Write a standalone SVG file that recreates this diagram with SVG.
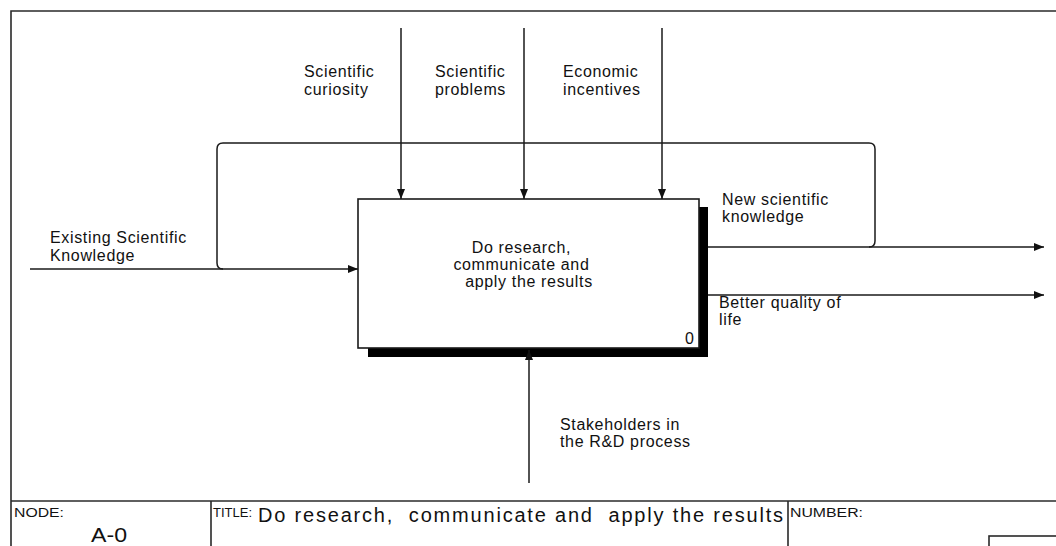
<svg xmlns="http://www.w3.org/2000/svg" width="1056" height="546" viewBox="0 0 1056 546">
  <style>
    .frame { stroke: #2a2a2a; stroke-width: 1.6; fill: none; }
    .flow { stroke: #1a1a1a; stroke-width: 1.5; fill: none; }
    .lbl { font-family: "Liberation Sans", Arial, sans-serif; font-size: 16px; letter-spacing: 0.65px; fill: #111; }
    .small { font-family: "Liberation Sans", Arial, sans-serif; font-size: 12px; fill: #111; }
    .big { font-family: "Liberation Sans", Arial, sans-serif; font-size: 20px; fill: #111; }
  </style>
  <defs>
    <marker id="head" viewBox="0 0 10 8" refX="10" refY="4" markerWidth="10" markerHeight="8" markerUnits="userSpaceOnUse" orient="auto">
      <path d="M0,0 L10,4 L0,8 Z" fill="#111"/>
    </marker>
  </defs>

  <rect width="1056" height="546" fill="#fff"/>

  <!-- sheet frame and title block -->
  <g id="frame">
    <path class="frame" d="M11,546 V11 H1056"/>
    <path class="frame" d="M11,501 H1056"/>
    <path class="frame" d="M211,501 V546 M788,501 V546"/>
    <rect class="frame" x="989" y="536" width="80" height="20"/>
    <text class="small" x="14" y="517" textLength="50" lengthAdjust="spacingAndGlyphs">NODE:</text>
    <text class="big" x="91" y="542" textLength="36" lengthAdjust="spacingAndGlyphs">A-0</text>
    <text class="small" x="213" y="517" textLength="39" lengthAdjust="spacingAndGlyphs">TITLE:</text>
    <text class="big" x="258" y="522" xml:space="preserve" textLength="525" lengthAdjust="spacing">Do research,  communicate and  apply the results</text>
    <text class="small" x="790" y="517" textLength="73" lengthAdjust="spacingAndGlyphs">NUMBER:</text>
  </g>

  <!-- activity box -->
  <g id="node-0">
    <rect x="368" y="207" width="340" height="150" fill="#000"/>
    <rect x="358" y="199" width="341" height="149" fill="#fff" stroke="#1a1a1a" stroke-width="1.6"/>
    <text class="lbl" text-anchor="middle">
      <tspan x="524" y="253">Do research,</tspan>
      <tspan x="524" y="270">communicate and</tspan>
      <tspan x="529" y="287">apply the results</tspan>
    </text>
    <text class="lbl" x="685" y="344">0</text>
  </g>

  <!-- connectors -->
  <g id="connectors">
    <path class="flow" d="M401,28 V199" marker-end="url(#head)"/>
    <path class="flow" d="M524,28 V199" marker-end="url(#head)"/>
    <path class="flow" d="M662,28 V199" marker-end="url(#head)"/>
    <path class="flow" d="M30,269 H358" marker-end="url(#head)"/>
    <path class="flow" d="M708,247 H1044" marker-end="url(#head)"/>
    <path class="flow" d="M708,295 H1044" marker-end="url(#head)"/>
    <path class="flow" d="M529,483 V350" marker-end="url(#head)"/>
    <path class="flow" d="M869,247 Q875,247 875,241 V149 Q875,143 869,143 H223 Q217,143 217,149 V263 Q217,269 223,269"/>
  </g>

  <!-- arrow labels -->
  <g id="labels">
    <text class="lbl"><tspan x="304" y="77">Scientific</tspan><tspan x="304" y="95">curiosity</tspan></text>
    <text class="lbl"><tspan x="435" y="77">Scientific</tspan><tspan x="435" y="95">problems</tspan></text>
    <text class="lbl"><tspan x="563" y="77">Economic</tspan><tspan x="563" y="95">incentives</tspan></text>
    <text class="lbl"><tspan x="50" y="243">Existing Scientific</tspan><tspan x="50" y="261">Knowledge</tspan></text>
    <text class="lbl"><tspan x="722" y="205">New scientific</tspan><tspan x="722" y="222">knowledge</tspan></text>
    <text class="lbl"><tspan x="719" y="308">Better quality of</tspan><tspan x="719" y="325">life</tspan></text>
    <text class="lbl"><tspan x="560" y="430">Stakeholders in</tspan><tspan x="560" y="447">the R&amp;D process</tspan></text>
  </g>
</svg>
